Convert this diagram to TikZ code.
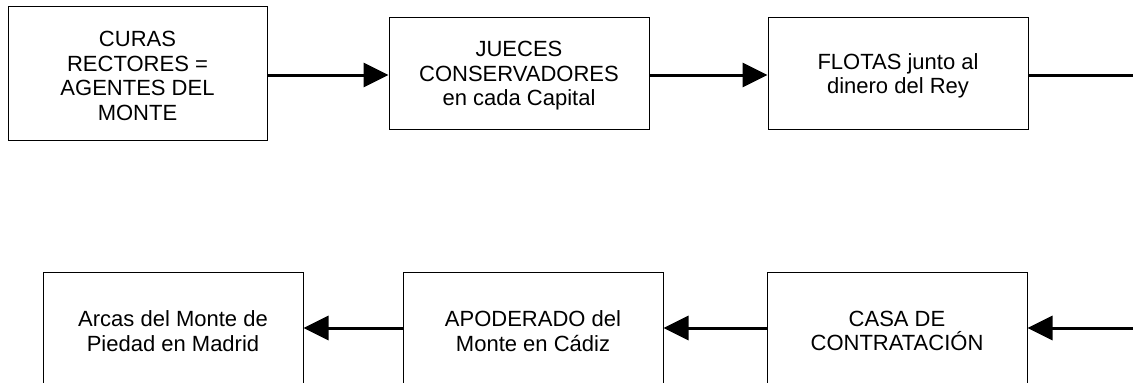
\documentclass[tikz,border=0pt]{standalone}
\usepackage{fontspec}
\setmainfont{Liberation Sans}
\usetikzlibrary{arrows.meta}
\begin{document}
\begin{tikzpicture}[x=1pt,y=-1pt,
  box/.style={draw=black, line width=1pt, rectangle, inner sep=0pt,
    minimum width=260pt, minimum height=112pt,
    label={[align=center, inner sep=0pt, yshift=-3pt,
      font=\fontsize{22pt}{24.5pt}\selectfont]center:#1}},
  flow/.style={line width=3pt, -{Triangle[length=25pt,width=24pt]}},
  plain/.style={line width=3pt}]
\useasboundingbox (0,0) rectangle (1133,383);
\node[box={CURAS\\RECTORES =\\AGENTES DEL\\MONTE}, minimum width=259pt, minimum height=134pt] (curas) at (137.5,73) {};
\node[box={JUECES\\CONSERVADORES\\en cada Capital}] (jueces) at (519,73) {};
\node[box={FLOTAS junto al\\dinero del Rey}] (flotas) at (898,73) {};
\node[box={Arcas del Monte de\\Piedad en Madrid}] (arcas) at (173,328) {};
\node[box={APODERADO del\\Monte en Cádiz}] (apod) at (533,328) {};
\node[box={CASA DE\\CONTRATACIÓN}] (casa) at (897,328) {};
\coordinate (topend) at (1133,75);
\coordinate (botstart) at (1133,328);
\draw[flow] (curas.east |- 0,75) -- (jueces.west |- 0,75);
\draw[flow] (jueces.east |- 0,75) -- (flotas.west |- 0,75);
\draw[plain] (flotas.east |- 0,75) -- (topend);
\draw[flow] (botstart) -- (casa.east);
\draw[flow] (casa.west) -- (apod.east);
\draw[flow] (apod.west) -- (arcas.east);
\end{tikzpicture}
\end{document}
